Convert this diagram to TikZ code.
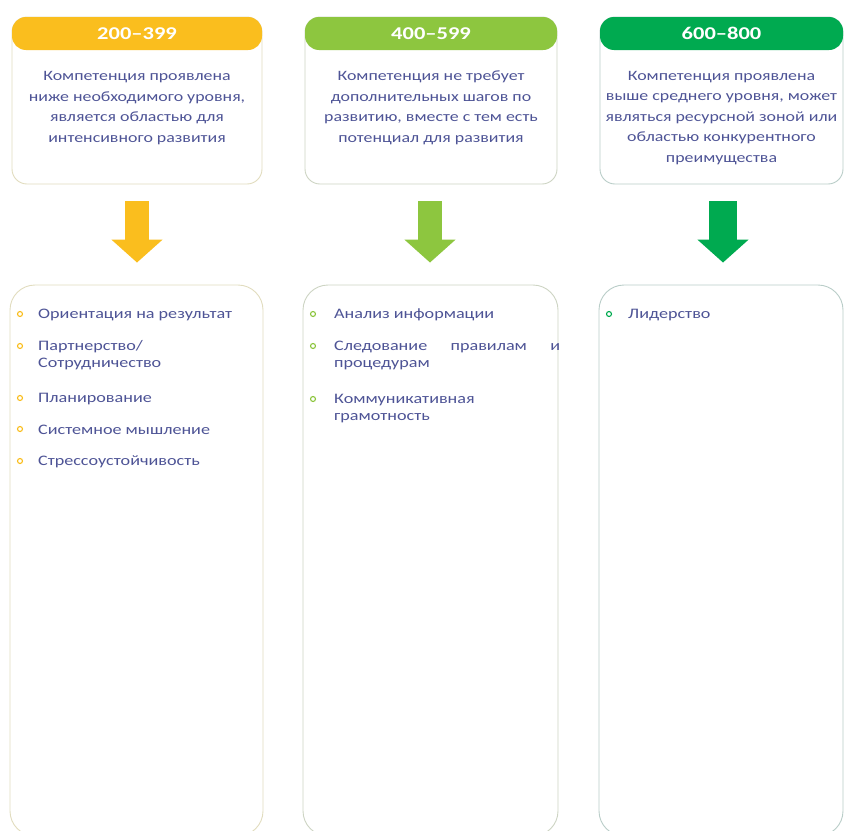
\documentclass[tikz,border=0pt]{standalone}
\usepackage{fontspec}
\setmainfont{Carlito}[FakeStretch=1.25]
\usepackage{tikz}
\usetikzlibrary{arrows.meta}
\definecolor{nivelamarillo}{RGB}{250,190,30}
\definecolor{nivellima}{RGB}{141,198,63}
\definecolor{nivelverde}{RGB}{0,170,80}
\definecolor{textoazul}{RGB}{78,84,150}
\definecolor{borde1}{RGB}{225,220,190}
\definecolor{borde2}{RGB}{205,212,195}
\definecolor{borde3}{RGB}{185,205,200}

\begin{document}
\begin{tikzpicture}[x=1pt,y=-1pt,
    caja/.style={draw=#1, line width=0.9pt, fill=white, inner sep=0pt},
    cabecera/.style={fill=#1, rounded corners=14pt, minimum width=250pt, minimum height=33pt, inner sep=0pt, text=white, font=\bfseries\fontsize{18}{20}\selectfont},
    texto/.style={align=center, text=textoazul, font=\fontsize{14.3}{20.5}\selectfont},
    item/.style={anchor=west, align=left, inner sep=0pt, text=textoazul, font=\fontsize{14.5}{17}\selectfont},
    punto/.style={circle, draw=#1, line width=1.1pt, minimum size=5pt, inner sep=0pt},
    flecha/.style={draw=#1, line width=24pt, -{Triangle[length=23pt,width=50pt]}, shorten <=17pt, shorten >=22pt}]
    \useasboundingbox (0,0) rectangle (845,830);

    % Cajas superiores
    \node[caja=borde1, rounded corners=15pt, minimum width=250pt, minimum height=167pt] (sup1) at (137,100.5) {};
    \node[caja=borde2, rounded corners=15pt, minimum width=252pt, minimum height=167pt] (sup2) at (431,100.5) {};
    \node[caja=borde3, rounded corners=15pt, minimum width=243pt, minimum height=167pt] (sup3) at (721.5,100.5) {};

    % Cabeceras
    \node[cabecera=nivelamarillo] (cab1) at (137,33.5) {200–399};
    \node[cabecera=nivellima, minimum width=252pt] (cab2) at (431,33.5) {400–599};
    \node[cabecera=nivelverde, minimum width=243pt] (cab3) at (721.5,33.5) {600–800};

    % Descripciones
    \node[texto] (des1) at (137,108) {Компетенция проявлена\\ниже необходимого уровня,\\является областью для\\интенсивного развития};
    \node[texto] (des2) at (431,108) {Компетенция не требует\\дополнительных шагов по\\развитию, вместе с тем есть\\потенциал для развития};
    \node[texto] (des3) at (721.5,118) {Компетенция проявлена\\выше среднего уровня, может\\являться ресурсной зоной или\\областью конкурентного\\преимущества};

    % Cajas inferiores
    \node[caja=borde1, rounded corners=25pt, minimum width=253pt, minimum height=551pt] (inf1) at (136.5,560.5) {};
    \node[caja=borde2, rounded corners=25pt, minimum width=255pt, minimum height=551pt] (inf2) at (430.5,560.5) {};
    \node[caja=borde3, rounded corners=25pt, minimum width=244pt, minimum height=551pt] (inf3) at (721,560.5) {};

    % Flechas
    \draw[flecha=nivelamarillo] (sup1.south) -- (sup1.south |- inf1.north);
    \draw[flecha=nivellima] ([xshift=-1pt]sup2.south) -- ([xshift=-1pt]sup2.south |- inf2.north);
    \draw[flecha=nivelverde, line width=28pt] ([xshift=1.5pt]sup3.south) -- ([xshift=1.5pt]sup3.south |- inf3.north);

    % Competencias 200-399
    \node[punto=nivelamarillo] (p11) at (20,314) {}; \node[item] (c11) at (38,315) {Ориентация на результат};
    \node[punto=nivelamarillo] (p12) at (20,346) {}; \node[item] (c12) at (38,355.5) {Партнерство/\\Сотрудничество};
    \node[punto=nivelamarillo] (p13) at (20,398) {}; \node[item] (c13) at (38,399) {Планирование};
    \node[punto=nivelamarillo] (p14) at (20,429) {}; \node[item] (c14) at (38,430) {Системное мышление};
    \node[punto=nivelamarillo] (p15) at (20,461) {}; \node[item] (c15) at (38,462) {Стрессоустойчивость};

    % Competencias 400-599
    \node[punto=nivellima] (p21) at (313,314) {}; \node[item] (c21) at (334,315) {Анализ информации};
    \node[punto=nivellima] (p22) at (313,346) {}; \node[item, text width=226pt] (c22) at (334,355.5) {Следование\hfill правилам\hfill и\\процедурам};
    \node[punto=nivellima] (p23) at (313,399) {}; \node[item] (c23) at (334,408.5) {Коммуникативная\\грамотность};

    % Competencias 600-800
    \node[punto=nivelverde] (p31) at (609,314) {}; \node[item] (c31) at (628,315) {Лидерство};
\end{tikzpicture}
\end{document}
